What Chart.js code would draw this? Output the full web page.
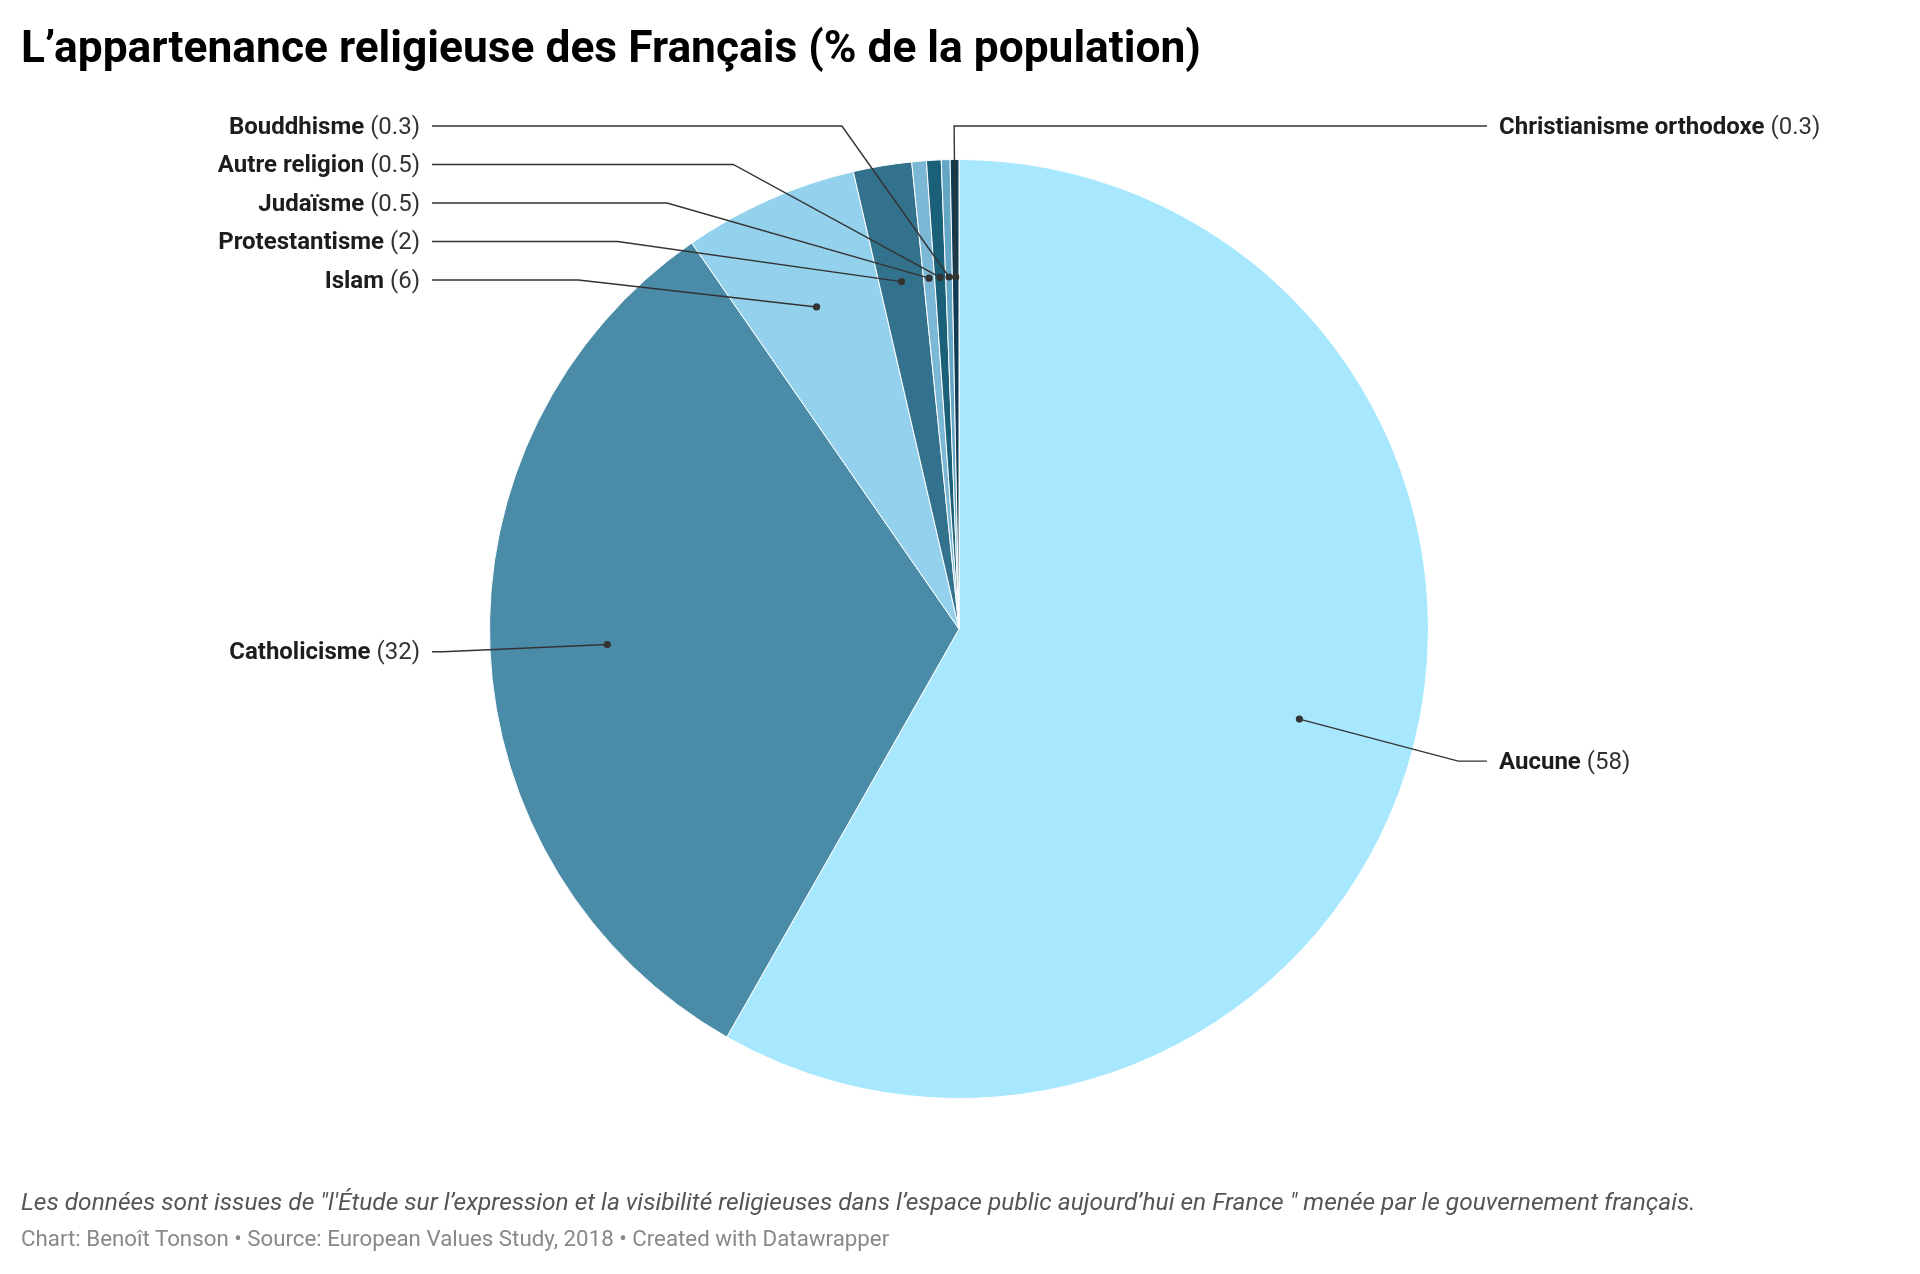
<!DOCTYPE html>
<html lang="fr">
<head>
<meta charset="utf-8">
<script src="https://cdn.jsdelivr.net/npm/chart.js@4.4.1/dist/chart.umd.min.js"></script>
<style>
  html, body { margin: 0; padding: 0; background: #fff; }
  body { width: 1920px; height: 1274px; position: relative; overflow: hidden; font-family: Roboto, "Noto Sans", sans-serif; }
  #chart { position: absolute; left: 0; top: 0; }
  .title { position: absolute; left: 21px; top: 21px; font-size: 44.3px; font-weight: 700; color: #000; white-space: nowrap; }
  .note { position: absolute; left: 21px; top: 1187px; font-size: 24.5px; font-style: italic; color: #555; white-space: nowrap; }
  .byline { position: absolute; left: 21px; top: 1225px; font-size: 22.3px; color: #888; white-space: nowrap; }
</style>
</head>
<body>
<canvas id="chart" width="1920" height="1274"></canvas>
<div class="title">L’appartenance religieuse des Français (% de la population)</div>
<div class="note">Les données sont issues de "l'Étude sur l’expression et la visibilité religieuses dans l’espace public aujourd’hui en France " menée par le gouvernement français.</div>
<div class="byline">Chart: Benoît Tonson • Source: European Values Study, 2018 • Created with Datawrapper</div>
<script>
// Data
const religions = ['Aucune', 'Catholicisme', 'Islam', 'Protestantisme', 'Judaïsme', 'Autre religion', 'Bouddhisme', 'Christianisme orthodoxe'];
const shares = [58, 32, 6, 2, 0.5, 0.5, 0.3, 0.3];
const sliceColors = ['#a8e8fe', '#4a8ba8', '#93d1ed', '#33728d', '#7ab8d6', '#1a6079', '#64a6c6', '#103b52'];

// Leader lines + labels, Datawrapper style
const leaderLabels = {
    id: 'leaderLabels',
    afterDatasetsDraw(chart) {
        const ctx = chart.ctx;
        const arcs = chart.getDatasetMeta(0).data;
        if (!arcs.length) return;
        const cx = arcs[0].x, cy = arcs[0].y, r = arcs[0].outerRadius;
        const dotR = r * 0.75;
        const elbowR = r * 1.1;
        const rowGap = 38.5;
        const topLimit = 126;
        const fontSize = 24;

        const items = arcs.map((arc, i) => {
            const mid = (arc.startAngle + arc.endAngle) / 2;
            return {
                i,
                mid,
                dotX: cx + Math.cos(mid) * dotR,
                dotY: cy + Math.sin(mid) * dotR,
                natY: cy + Math.sin(mid) * elbowR,
                side: Math.cos(mid) >= -0.001 ? 1 : -1
            };
        });
        // the thinnest slice at the top goes to the right-hand column
        items[items.length - 1].side = 1;

        [-1, 1].forEach(side => {
            const group = items.filter(it => it.side === side).sort((a, b) => a.natY - b.natY);
            let prev = -Infinity;
            group.forEach(it => {
                it.y = Math.max(it.natY, topLimit, prev + rowGap);
                prev = it.y;
            });
        });

        ctx.save();
        items.forEach(it => {
            const dy = it.y - cy;
            let ex;
            const dotSide = it.dotX - cx >= 0 ? 1 : -1;
            if (dotSide !== it.side) {
                ex = cx + Math.cos(it.mid) * elbowR;
            } else {
                ex = cx + it.side * Math.sqrt(Math.max(elbowR * elbowR - dy * dy, 0));
            }
            const lineEnd = it.side === 1 ? 1487 : 432;
            ctx.strokeStyle = '#333';
            ctx.lineWidth = 1.4;
            ctx.beginPath();
            ctx.moveTo(it.dotX, it.dotY);
            ctx.lineTo(ex, it.y);
            ctx.lineTo(lineEnd, it.y);
            ctx.stroke();

            ctx.fillStyle = '#333';
            ctx.beginPath();
            ctx.arc(it.dotX, it.dotY, 3.6, 0, Math.PI * 2);
            ctx.fill();

            const name = religions[it.i];
            const val = ' (' + shares[it.i] + ')';
            ctx.textBaseline = 'middle';
            ctx.font = 'bold ' + fontSize + 'px Roboto';
            const wName = ctx.measureText(name).width;
            ctx.font = fontSize + 'px Roboto';
            const wVal = ctx.measureText(val).width;
            const tx = it.side === 1 ? 1499 : 420 - wName - wVal;
            ctx.textAlign = 'left';
            ctx.font = 'bold ' + fontSize + 'px Roboto';
            ctx.fillStyle = '#1d1d1d';
            ctx.fillText(name, tx, it.y + 1.5);
            ctx.font = fontSize + 'px Roboto';
            ctx.fillStyle = '#333';
            ctx.fillText(val, tx + wName, it.y + 1.5);
        });
        ctx.restore();
    }
};

const ctx = document.getElementById('chart').getContext('2d');
new Chart(ctx, {
    type: 'pie',
    data: {
        labels: religions,
        datasets: [{
            data: shares,
            backgroundColor: sliceColors,
            borderColor: '#fff',
            borderWidth: 1
        }]
    },
    options: {
        responsive: false,
        devicePixelRatio: 1,
        animation: false,
        layout: {
            padding: { top: 159, bottom: 175, left: 489, right: 491 }
        },
        plugins: {
            legend: { display: false },
            tooltip: { enabled: false }
        }
    },
    plugins: [leaderLabels]
});
</script>
</body>
</html>
